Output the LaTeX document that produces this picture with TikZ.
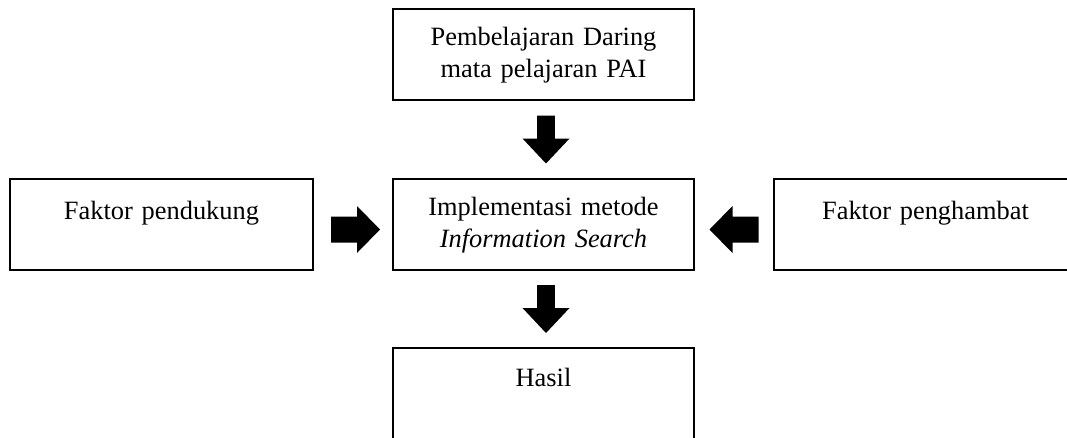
\documentclass[tikz,border=0pt]{standalone}
\usepackage{fontspec}
\setmainfont{Liberation Serif}
\usetikzlibrary{calc}
\begin{document}
\begin{tikzpicture}[x=1pt,y=-1pt,
  box/.style={draw, line width=2.2pt, minimum width=301pt, minimum height=91pt, inner sep=0pt},
  sidebox/.style={box, minimum width=303pt},
  txt/.style={font=\fontsize{26.4}{32}\selectfont, align=center, text width=295pt, inner sep=0pt, anchor=base},
  vblock/.pic={\fill (-8.8,-24) -- (8.8,-24) -- (8.8,-1) -- (23.5,-1) -- (0,24) -- (-23.5,-1) -- (-8.8,-1) -- cycle;},
  hblock/.pic={\fill (-24.5,-13) -- (1.5,-13) -- (1.5,-23.5) -- (24.5,0) -- (1.5,23.5) -- (1.5,13) -- (-24.5,13) -- cycle;}]
\useasboundingbox (0,0) rectangle (1067,437);
\clip (0,0) rectangle (1067,437);
% boxes
\node[box] (top) at (543.5,54.5) {};
\node[box] (mid) at (543.5,224.5) {};
\node[sidebox] (left) at (161.5,224.5) {};
\node[sidebox] (right) at (925.5,224.5) {};
\node[box] (bot) at (543.5,393.5) {};
% texts
\node[txt] (ttop) at ([yshift=-38pt]top.north) {Pembelajaran Daring\\mata pelajaran PAI};
\node[txt] (tmid) at ([yshift=-38pt]mid.north) {Implementasi metode\\\textit{Information Search}};
\node[txt] (tleft) at ([yshift=-42pt]left.north) {Faktor pendukung};
\node[txt] (tright) at ([yshift=-42pt]right.north) {Faktor penghambat};
\node[txt] (tbot) at ([yshift=-40pt]bot.north) {Hasil};
% block arrows
\pic at ($($(top.south)!0.5!(mid.north)$)+(2.5,0)$) {vblock};
\pic at ($($(mid.south)!0.5!(bot.north)$)+(2.5,0)$) {vblock};
\pic at ($($(left.east)!0.5!(mid.west)$)+(2.5,5)$) {hblock};
\pic[rotate=180] at ($($(mid.east)!0.5!(right.west)$)+(0,5)$) {hblock};
\end{tikzpicture}
\end{document}
